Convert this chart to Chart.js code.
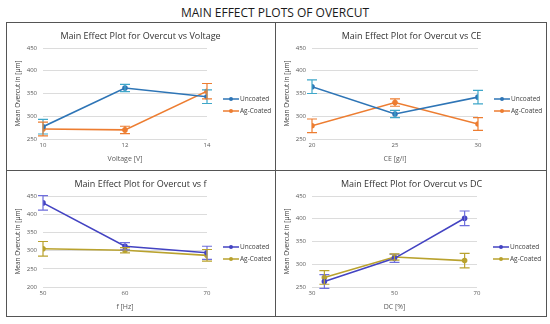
<!DOCTYPE html>
<html>
<head>
<meta charset="utf-8">
<script src="https://cdn.jsdelivr.net/npm/chart.js@4.4.0/dist/chart.umd.min.js"></script>
<style>
  body { margin: 0; background: #fff; font-family: "Open Sans", sans-serif; }
  #wrap { position: relative; width: 550px; height: 324px; }
  #main { position: absolute; left: 0; top: 4px; width: 550px; text-align: center; font-size: 12px; color: #1a1a1a; }
  #frame { position: absolute; left: 6px; top: 22px; width: 541px; height: 295px; border: 1px solid #555; box-sizing: border-box; }
  .vline { position: absolute; left: 275px; top: 22px; width: 1px; height: 295px; background: #555; }
  .hline { position: absolute; left: 6px; top: 170px; width: 541px; height: 1px; background: #555; }
  canvas { position: absolute; }
</style>
</head>
<body>
<div id="wrap">
  <div id="main">MAIN EFFECT PLOTS OF OVERCUT</div>
  <div id="frame"></div>
  <div class="vline"></div>
  <div class="hline"></div>
  <canvas id="c1" width="267" height="146" style="left:7px;top:23px"></canvas>
  <canvas id="c2" width="271" height="146" style="left:276px;top:23px"></canvas>
  <canvas id="c3" width="267" height="146" style="left:7px;top:171px"></canvas>
  <canvas id="c4" width="271" height="146" style="left:276px;top:171px"></canvas>
</div>
<script>
// voltage
const voltage = [10, 12, 14];
const voltUncoated = [277, 362, 343];
const voltUncoatedErr = [16, 8, 15];
const voltAg = [272, 270, 355];
const voltAgErr = [15, 8, 17];

// CE
const ce = [20, 25, 30];
const ceUncoated = [365, 305, 342];
const ceUncoatedErr = [15, 8, 15];
const ceAg = [279, 330, 283];
const ceAgErr = [15, 8, 14];

// frequency
const freq = [50, 60, 70];
const fUncoated = [431, 312, 294];
const fUncoatedErr = [20, 10, 18];
const fAg = [305, 301, 287];
const fAgErr = [20, 7, 16];

// duty cycle
const dc = [33, 50, 67];
const dcUncoated = [262, 313, 401];
const dcUncoatedErr = [15, 9, 16];
const dcAg = [271, 316, 308];
const dcAgErr = [15, 7, 16];

const seriesNames = ["Uncoated", "Ag-Coated"];

const errorBars = {
  id: "errorBars",
  afterDatasetsDraw(chart) {
    const ctx = chart.ctx;
    const y = chart.scales.y;
    chart.data.datasets.forEach((ds, i) => {
      const meta = chart.getDatasetMeta(i);
      ctx.save();
      ctx.strokeStyle = ds.errColor;
      ctx.lineWidth = 1.2;
      meta.data.forEach((pt, j) => {
        const v = ds.data[j].y, e = ds.err[j];
        const top = y.getPixelForValue(v + e), bot = y.getPixelForValue(v - e);
        ctx.beginPath();
        ctx.moveTo(pt.x, top); ctx.lineTo(pt.x, bot);
        ctx.moveTo(pt.x - 5, top); ctx.lineTo(pt.x + 5, top);
        ctx.moveTo(pt.x - 5, bot); ctx.lineTo(pt.x + 5, bot);
        ctx.stroke();
      });
      ctx.restore();
    });
  }
};

// legend on the right + panel title centred over the whole panel
const sideLegend = {
  id: "sideLegend",
  afterDraw(chart, args, opts) {
    const ctx = chart.ctx;
    ctx.save();
    ctx.fillStyle = "#333";
    ctx.font = "9px 'Open Sans'";
    ctx.textAlign = "center";
    ctx.textBaseline = "middle";
    ctx.fillText(opts.title, chart.width / 2, 13);
    ctx.restore();

    const x0 = chart.chartArea.right + 16;
    chart.data.datasets.forEach((ds, i) => {
      const yy = 76 + i * 12;
      ctx.save();
      ctx.strokeStyle = ds.borderColor;
      ctx.lineWidth = 1.5;
      ctx.beginPath(); ctx.moveTo(x0, yy); ctx.lineTo(x0 + 16, yy); ctx.stroke();
      ctx.fillStyle = ds.borderColor;
      ctx.beginPath(); ctx.arc(x0 + 8, yy, 2, 0, Math.PI * 2); ctx.fill();
      ctx.fillStyle = "#404040";
      ctx.font = "6.5px 'Open Sans'";
      ctx.textBaseline = "middle";
      ctx.fillText(ds.label, x0 + 17, yy);
      ctx.restore();
    });
  }
};

function makePanel(id, title, xTitle, xs, a, aErr, b, bErr, yMin, xMin, xMax, xStep, colors, rightPad) {
  const pts = arr => arr.map((v, k) => ({ x: xs[k], y: v }));
  new Chart(document.getElementById(id), {
    type: "line",
    data: {
      datasets: [
        { label: seriesNames[0], data: pts(a), err: aErr, borderColor: colors[0], backgroundColor: colors[0], errColor: colors[1], borderWidth: 1.6, pointRadius: 2, tension: 0 },
        { label: seriesNames[1], data: pts(b), err: bErr, borderColor: colors[2], backgroundColor: colors[2], errColor: colors[3], borderWidth: 1.6, pointRadius: 2, tension: 0 }
      ]
    },
    options: {
      responsive: false,
      animation: false,
      layout: { padding: { left: 6, right: rightPad, top: 25, bottom: 6 } },
      plugins: {
        legend: { display: false },
        tooltip: { enabled: false },
        title: { display: false },
        sideLegend: { title: title }
      },
      scales: {
        x: {
          type: "linear", min: xMin, max: xMax,
          ticks: { stepSize: xStep, color: "#595959", font: { family: "Open Sans", size: 6 }, padding: 3 },
          grid: { display: false, drawTicks: false },
          border: { display: false },
          title: { display: true, text: xTitle, color: "#595959", font: { family: "Open Sans", size: 7 }, padding: 0 },
          afterFit(s) { s.height = 24; }
        },
        y: {
          min: yMin, max: 450,
          ticks: { stepSize: 50, color: "#595959", font: { family: "Open Sans", size: 6 }, padding: 6 },
          grid: { color: "#dcdcdc", drawTicks: false },
          border: { display: false },
          title: { display: true, text: "Mean Overcut in [µm]", color: "#404040", font: { family: "Open Sans", size: 6.5 }, padding: 1 },
          afterFit(s) { s.width = 30; }
        }
      }
    },
    plugins: [errorBars, sideLegend]
  });
}

const topColors = ["#2E75B6", "#3FA7C9", "#ED7D31", "#ED7D31"];
const botColors = ["#4343C2", "#6E6EDC", "#B9A22E", "#B9A22E"];

makePanel("c1", "Main Effect Plot for Overcut vs Voltage", "Voltage [V]", voltage, voltUncoated, voltUncoatedErr, voltAg, voltAgErr, 250, 10, 14, 2, topColors, 67);
makePanel("c2", "Main Effect Plot for Overcut vs CE", "CE [g/l]", ce, ceUncoated, ceUncoatedErr, ceAg, ceAgErr, 250, 20, 30, 5, topColors, 69);
makePanel("c3", "Main Effect Plot for Overcut vs f", "f [Hz]", freq, fUncoated, fUncoatedErr, fAg, fAgErr, 200, 50, 70, 10, botColors, 67);
makePanel("c4", "Main Effect Plot for Overcut vs DC", "DC [%]", dc, dcUncoated, dcUncoatedErr, dcAg, dcAgErr, 250, 30, 70, 20, botColors, 70);
</script>
</body>
</html>
